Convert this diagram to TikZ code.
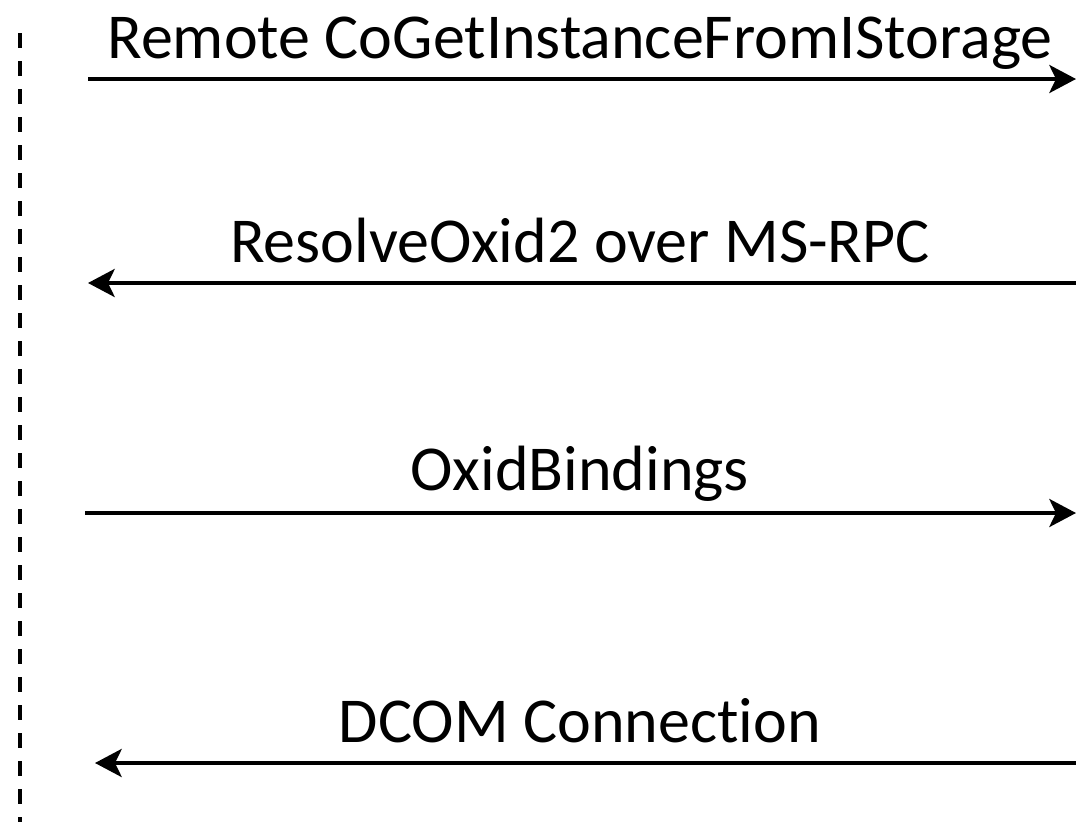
\documentclass[tikz,border=0pt]{standalone}
\usepackage{fontspec}
\setmainfont{Carlito}[Ligatures={NoCommon}]
\usetikzlibrary{arrows.meta}
\tikzset{
  msg/.style={line width=3pt, -{Stealth[length=20pt, width=21pt, inset=5pt]}},
  lbl/.style={font=\fontsize{48pt}{57pt}\selectfont, inner sep=0pt, anchor=base},
  lifeline/.style={line width=2.8pt, dash pattern=on 11.25pt off 9.75pt}
}
\begin{document}
\begin{tikzpicture}[x=0.75pt, y=-0.75pt]
\useasboundingbox (0,0) rectangle (1076,822);
% lifeline on the left
\coordinate (lifeTop) at (20,33);
\coordinate (lifeBot) at (20,822);
\draw[lifeline] (lifeTop) -- (lifeBot);
% message end points
\coordinate (m1a) at (88,79);   \coordinate (m1b) at (1076,79);
\coordinate (m2a) at (1076,283); \coordinate (m2b) at (88,283);
\coordinate (m3a) at (85,513);  \coordinate (m3b) at (1076,513);
\coordinate (m4a) at (1076,763); \coordinate (m4b) at (95,763);
% messages
\draw[msg] (m1a) -- (m1b);
\draw[msg] (m2a) -- (m2b);
\draw[msg] (m3a) -- (m3b);
\draw[msg] (m4a) -- (m4b);
% labels
\node[lbl] (t1) at (580,58) {Remote CoGetInstanceFromIStorage};
\node[lbl] (t2) at (580,262) {ResolveOxid2 over MS-RPC};
\node[lbl] (t3) at (580,490) {OxidBindings};
\node[lbl] (t4) at (580,742) {DCOM Connection};
\end{tikzpicture}
\end{document}
